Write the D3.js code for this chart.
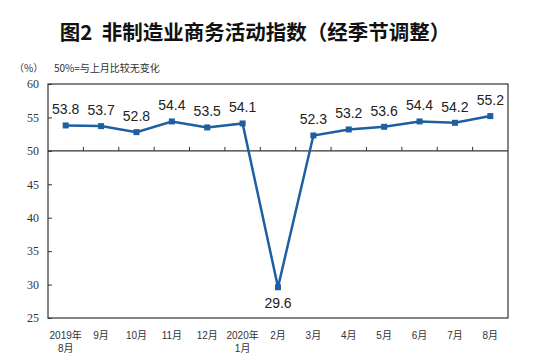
<!DOCTYPE html>
<html><head><meta charset="utf-8">
<script src="https://cdn.jsdelivr.net/npm/d3@7"></script>
<style>body{margin:0;background:#fff;}svg{display:block;}</style>
</head><body>
<svg id="c" width="553" height="362"></svg>
<script>
const categories = ["2019年\n8月","9月","10月","11月","12月","2020年\n1月","2月","3月","4月","5月","6月","7月","8月"];
const values = [53.8,53.7,52.8,54.4,53.5,54.1,29.6,52.3,53.2,53.6,54.4,54.2,55.2];
const yTicks = [25,30,35,40,45,50,55,60];
const title = "图2  非制造业商务活动指数（经季节调整）";
const unitLabel = "（%）";
const note = "50%=与上月比较无变化";

const svg = d3.select("#c");
const L=48, R=508, T=84, B=318;
const x = d3.scaleBand().domain(categories).range([L,R]);
const y = d3.scaleLinear().domain([25,60]).range([B,T]);
const col = "#1d5fa0";

svg.append("text").attr("x",255).attr("y",40).attr("text-anchor","middle")
  .attr("font-family","Noto Sans CJK SC").attr("font-weight","bold").attr("font-size",20.5)
  .attr("fill","#111").style("white-space","pre").text(title);
svg.append("text").attr("x",14).attr("y",72).attr("font-family","Noto Sans CJK SC")
  .attr("font-size",10).attr("fill","#333").text(unitLabel);
svg.append("text").attr("x",54).attr("y",72).attr("font-family","Noto Sans CJK SC")
  .attr("font-size",10).attr("fill","#333").text(note);

// frame
svg.append("rect").attr("x",L).attr("y",T).attr("width",R-L).attr("height",B-T)
  .attr("fill","none").attr("stroke","#333").attr("stroke-width",1.2);

// y axis
const yAx = svg.append("g").attr("transform",`translate(${L},0)`)
  .call(d3.axisLeft(y).tickValues(yTicks).tickSize(-4).tickPadding(9));
yAx.select(".domain").remove();
yAx.selectAll("line").attr("stroke","#333");
yAx.selectAll("text").attr("font-family","Liberation Serif").attr("font-size",12).attr("fill","#333");

// 50 line with upward ticks at category boundaries
svg.append("line").attr("x1",L).attr("x2",R).attr("y1",y(50)).attr("y2",y(50))
  .attr("stroke","#333").attr("stroke-width",1.2);
svg.append("g").selectAll("line").data(categories.slice(1)).join("line")
  .attr("x1",d=>x(d)).attr("x2",d=>x(d)).attr("y1",y(50)).attr("y2",y(50)-4)
  .attr("stroke","#333");

// x labels (each line as its own text)
const xLines = [];
categories.forEach(c=>c.split("\n").forEach((p,i)=>xLines.push({c,p,i})));
svg.append("g").selectAll("text").data(xLines).join("text")
  .attr("text-anchor","middle").attr("font-family","'Liberation Sans', 'Noto Sans CJK SC'").attr("font-size",10)
  .attr("fill","#333").attr("x",d=>x(d.c)+x.bandwidth()/2).attr("y",d=>339+d.i*12.5)
  .text(d=>d.p);

const cx = (d,i)=>x(categories[i])+x.bandwidth()/2;
svg.append("path").datum(values)
  .attr("d",d3.line().x((d,i)=>cx(d,i)).y(d=>y(d)))
  .attr("fill","none").attr("stroke",col).attr("stroke-width",2.5);
svg.append("g").selectAll("rect").data(values).join("rect")
  .attr("x",(d,i)=>cx(d,i)-3).attr("y",d=>y(d)-3).attr("width",6).attr("height",6).attr("fill",col);

svg.append("g").selectAll("text").data(values).join("text")
  .attr("text-anchor","middle").attr("font-family","Liberation Sans").attr("font-size",14)
  .attr("fill","#222")
  .attr("x",(d,i)=>cx(d,i)).attr("y",d=>d<40? y(d)+21 : y(d)-11)
  .text(d=>d.toFixed(1));
</script>
</body></html>
